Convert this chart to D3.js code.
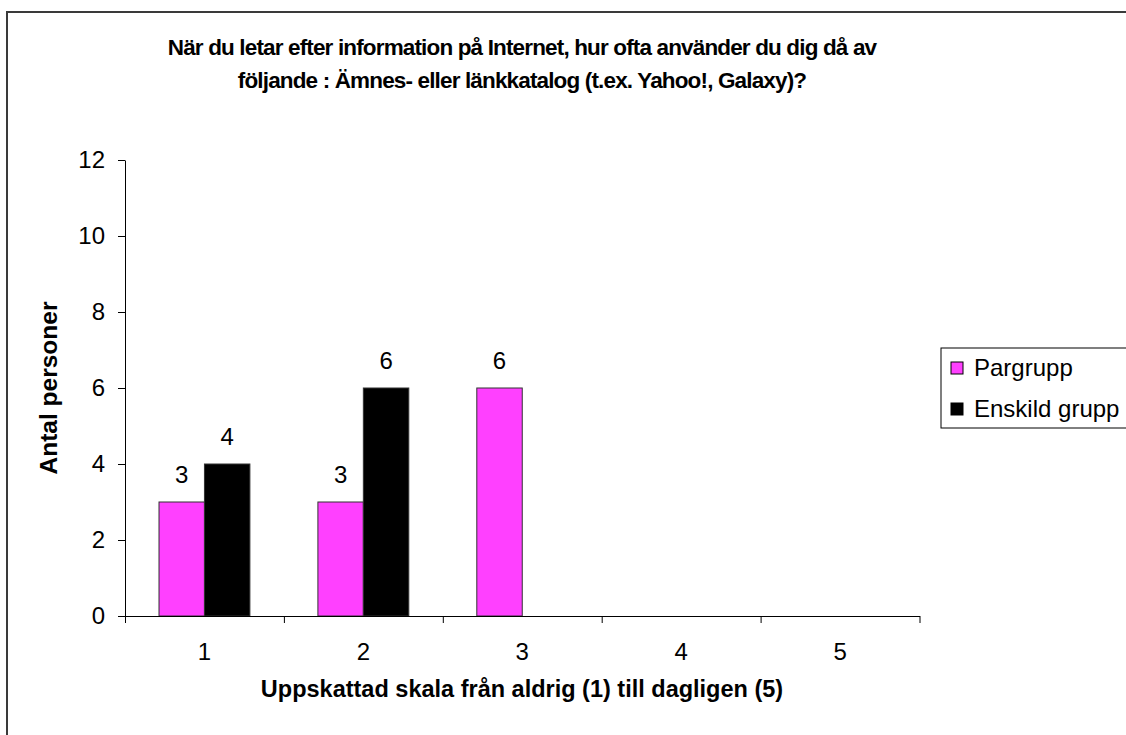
<!DOCTYPE html>
<html>
<head>
<meta charset="utf-8">
<script src="https://cdn.jsdelivr.net/npm/d3@7"></script>
<style>
  html, body { margin: 0; padding: 0; background: #fff; }
  svg { display: block; font-family: "Liberation Sans", Arial, sans-serif; }
  .tick text { font-size: 24px; fill: #000; font-family: "Liberation Sans", Arial, sans-serif; }
</style>
</head>
<body>
<svg id="chart" width="1126" height="735"></svg>
<script>
// Survey answers: how often a subject/link directory is used (1 = never, 5 = daily)
const categories = ["1", "2", "3", "4", "5"];
const seriesNames = ["Pargrupp", "Enskild grupp"];
const pargrupp = [3, 3, 6, 0, 0];
const enskildGrupp = [4, 6, 0, 0, 0];
const yTicks = [0, 2, 4, 6, 8, 10, 12];
const seriesColors = ["#ff40ff", "#000000"];

const titleLines = [
  "När du letar efter information på Internet, hur ofta använder du dig då av",
  "följande : Ämnes- eller länkkatalog (t.ex. Yahoo!, Galaxy)?"
];
const xTitle = "Uppskattad skala från aldrig (1) till dagligen (5)";
const yTitle = "Antal personer";

const seriesValues = [pargrupp, enskildGrupp];
const rows = categories.map((c, i) => ({
  cat: c,
  values: seriesNames.map((s, j) => ({ series: s, value: seriesValues[j][i], idx: j }))
}));

const svg = d3.select("#chart");

// outer chart frame
svg.append("rect")
  .attr("x", 7).attr("y", 12)
  .attr("width", 1300).attr("height", 900)
  .attr("fill", "#fff")
  .attr("stroke", "#3a3a3a")
  .attr("stroke-width", 2);

const plot = { left: 125, right: 919.5, top: 160, bottom: 616 };

const x = d3.scaleBand().domain(categories).range([plot.left, plot.right]).padding(0);
const bw = x.bandwidth();
const x1 = d3.scaleBand().domain(seriesNames).range([bw * 0.214, bw * 0.786]).padding(0);
const y = d3.scaleLinear().domain([0, 12]).range([plot.bottom, plot.top]);

// title (tight tracking)
svg.append("g").selectAll("text")
  .data(titleLines)
  .join("text")
  .attr("x", 522)
  .attr("y", (d, i) => 55 + i * 33)
  .attr("text-anchor", "middle")
  .attr("font-weight", "bold")
  .style("font-size", "22.5px")
  .style("letter-spacing", "-0.85px")
  .attr("fill", "#000")
  .text(d => d);

// bars
const groups = svg.append("g").selectAll("g")
  .data(rows)
  .join("g")
  .attr("transform", d => `translate(${x(d.cat)},0)`);

groups.selectAll("rect")
  .data(d => d.values.filter(v => v.value > 0))
  .join("rect")
  .attr("x", d => x1(d.series))
  .attr("y", d => y(d.value))
  .attr("width", x1.bandwidth())
  .attr("height", d => y(0) - y(d.value))
  .attr("fill", d => seriesColors[d.idx])
  .attr("stroke", "#333")
  .attr("stroke-width", 1);

// value labels
groups.selectAll("text")
  .data(d => d.values.filter(v => v.value > 0))
  .join("text")
  .attr("x", d => x1(d.series) + x1.bandwidth() / 2)
  .attr("y", d => y(d.value) - 19)
  .attr("text-anchor", "middle")
  .style("font-size", "24px")
  .attr("fill", "#000")
  .text(d => d.value);

// y axis
const yAxis = svg.append("g")
  .attr("transform", `translate(${plot.left},0)`)
  .call(d3.axisLeft(y).tickValues(yTicks).tickSize(7).tickPadding(13).tickSizeOuter(0));
yAxis.selectAll("line, path").attr("stroke", "#000");

// x axis: tick marks on category boundaries, labels centred in each band
const xEdge = d3.scaleLinear().domain([0, categories.length]).range([plot.left, plot.right]);
const xAxisTicks = svg.append("g")
  .attr("transform", `translate(0,${plot.bottom})`)
  .call(d3.axisBottom(xEdge).tickValues(d3.range(categories.length + 1)).tickSize(7).tickFormat("").tickSizeOuter(0));
xAxisTicks.selectAll("line, path").attr("stroke", "#000");

const xAxisLabels = svg.append("g")
  .attr("transform", `translate(0,${plot.bottom})`)
  .call(d3.axisBottom(x).tickSize(0).tickPadding(27));
xAxisLabels.select(".domain").remove();

// axis titles
svg.append("text")
  .attr("x", 522).attr("y", 697)
  .attr("text-anchor", "middle")
  .attr("font-weight", "bold")
  .style("font-size", "23.5px")
  .text(xTitle);

svg.append("text")
  .attr("transform", "translate(57,388) rotate(-90)")
  .attr("text-anchor", "middle")
  .attr("font-weight", "bold")
  .style("font-size", "24.5px")
  .text(yTitle);

// legend
const legend = svg.append("g").attr("transform", "translate(941,348)");
legend.append("rect")
  .attr("x", 0).attr("y", 0)
  .attr("width", 300).attr("height", 80)
  .attr("fill", "#fff")
  .attr("stroke", "#000")
  .attr("stroke-width", 1);
const items = legend.selectAll("g.item")
  .data(seriesNames)
  .join("g")
  .attr("class", "item")
  .attr("transform", (d, i) => `translate(10,${14 + i * 41})`);
items.append("rect")
  .attr("width", 12).attr("height", 12)
  .attr("fill", (d, i) => seriesColors[i])
  .attr("stroke", "#000");
items.append("text")
  .attr("x", 23).attr("y", 13.5)
  .style("font-size", "24px")
  .attr("fill", "#000")
  .text(d => d);
</script>
</body>
</html>
